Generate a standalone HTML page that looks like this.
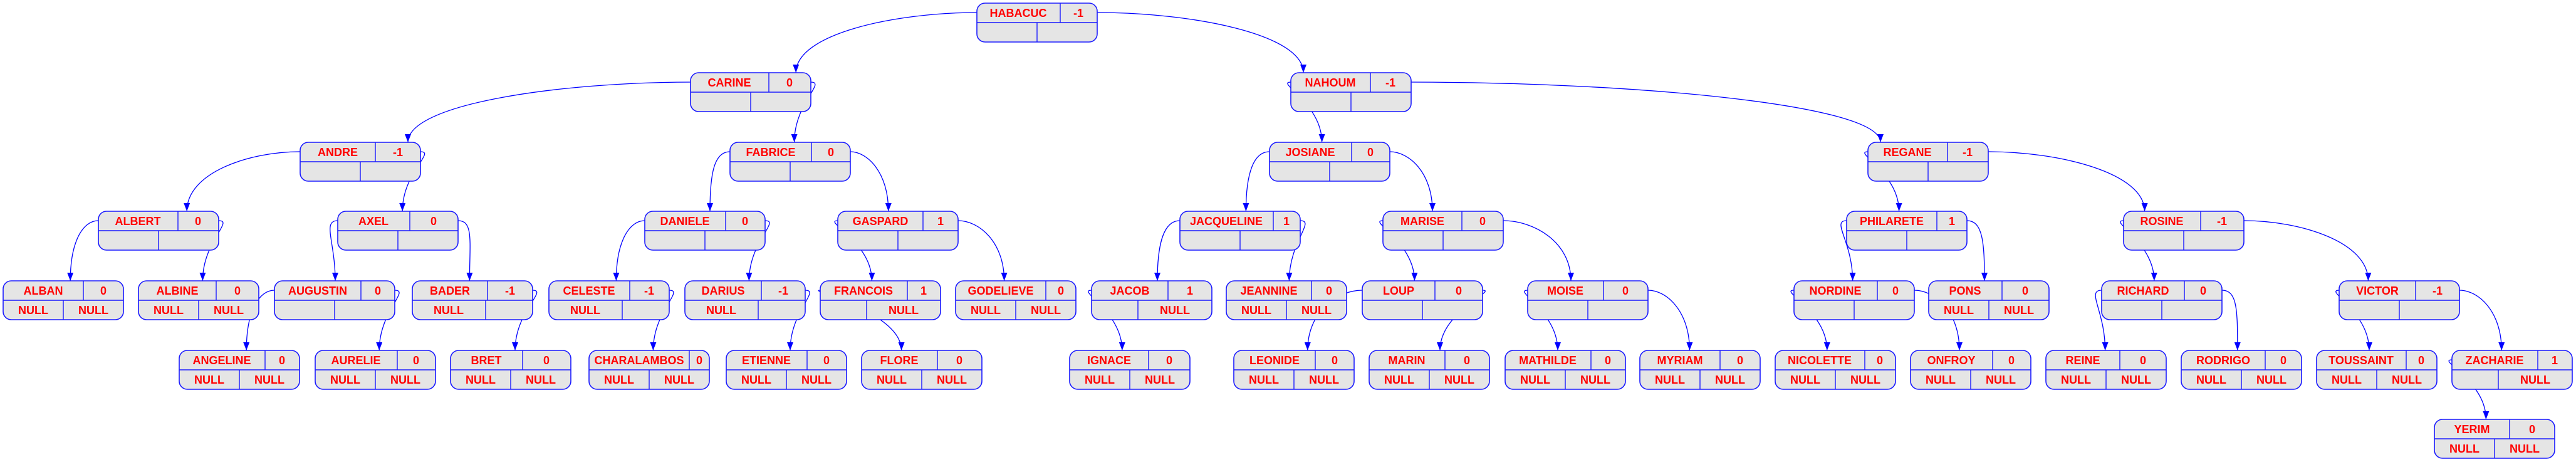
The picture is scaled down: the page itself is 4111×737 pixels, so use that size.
<!DOCTYPE html>
<html><head><meta charset="utf-8">
<style>
html,body{margin:0;padding:0;background:#fff;}
svg{display:block;}
.n rect{fill:#e5e5e5;stroke:#1a1aff;stroke-width:1.6;}
.n path{stroke:#1a1aff;stroke-width:1.4;fill:none;}
.n text{font-family:"Liberation Sans",sans-serif;font-weight:bold;font-size:18px;fill:#ff0000;text-anchor:middle;}
.e{stroke:#0000ff;stroke-width:1.3;fill:none;}
</style></head><body>
<svg id="s" width="4111" height="737" viewBox="0 0 4111 737" xmlns="http://www.w3.org/2000/svg">
<defs><marker id="a" markerUnits="userSpaceOnUse" markerWidth="13" markerHeight="10" refX="13" refY="5" orient="auto"><path d="M0,0L13,5L0,10z" fill="#0000ff"/></marker></defs>
<g id="edges"></g>
<!-- L0 -->
<g class="n" transform="translate(1559,5)"><rect width="192" height="62" rx="13"/><path d="M0 31H192M133 0V31M96 31V62"/><text x="66" y="22">HABACUC</text><text x="162" y="22">-1</text></g>
<!-- L1 -->
<g class="n" transform="translate(1102,116)"><rect width="192" height="62" rx="13"/><path d="M0 31H192M125 0V31M96 31V62"/><text x="62" y="22">CARINE</text><text x="158" y="22">0</text></g>
<g class="n" transform="translate(2060,116)"><rect width="192" height="62" rx="13"/><path d="M0 31H192M127 0V31M96 31V62"/><text x="63" y="22">NAHOUM</text><text x="159" y="22">-1</text></g>
<!-- L2 -->
<g class="n" transform="translate(479,227)"><rect width="192" height="62" rx="13"/><path d="M0 31H192M120 0V31M96 31V62"/><text x="60" y="22">ANDRE</text><text x="156" y="22">-1</text></g>
<g class="n" transform="translate(1165,227)"><rect width="192" height="62" rx="13"/><path d="M0 31H192M130 0V31M96 31V62"/><text x="65" y="22">FABRICE</text><text x="161" y="22">0</text></g>
<g class="n" transform="translate(2026,227)"><rect width="192" height="62" rx="13"/><path d="M0 31H192M131 0V31M96 31V62"/><text x="65" y="22">JOSIANE</text><text x="161" y="22">0</text></g>
<g class="n" transform="translate(2981,227)"><rect width="192" height="62" rx="13"/><path d="M0 31H192M127 0V31M96 31V62"/><text x="63" y="22">REGANE</text><text x="159" y="22">-1</text></g>
<!-- L3 -->
<g class="n" transform="translate(157,337)"><rect width="192" height="62" rx="13"/><path d="M0 31H192M127 0V31M96 31V62"/><text x="63" y="22">ALBERT</text><text x="159" y="22">0</text></g>
<g class="n" transform="translate(539,337)"><rect width="192" height="62" rx="13"/><path d="M0 31H192M115 0V31M96 31V62"/><text x="57" y="22">AXEL</text><text x="153" y="22">0</text></g>
<g class="n" transform="translate(1029,337)"><rect width="192" height="62" rx="13"/><path d="M0 31H192M129 0V31M96 31V62"/><text x="64" y="22">DANIELE</text><text x="160" y="22">0</text></g>
<g class="n" transform="translate(1337,337)"><rect width="192" height="62" rx="13"/><path d="M0 31H192M136 0V31M96 31V62"/><text x="68" y="22">GASPARD</text><text x="164" y="22">1</text></g>
<g class="n" transform="translate(1883,337)"><rect width="192" height="62" rx="13"/><path d="M0 31H192M149 0V31M96 31V62"/><text x="74" y="22">JACQUELINE</text><text x="170" y="22">1</text></g>
<g class="n" transform="translate(2207,337)"><rect width="192" height="62" rx="13"/><path d="M0 31H192M126 0V31M96 31V62"/><text x="63" y="22">MARISE</text><text x="159" y="22">0</text></g>
<g class="n" transform="translate(2947,337)"><rect width="192" height="62" rx="13"/><path d="M0 31H192M144 0V31M96 31V62"/><text x="72" y="22">PHILARETE</text><text x="168" y="22">1</text></g>
<g class="n" transform="translate(3389,337)"><rect width="192" height="62" rx="13"/><path d="M0 31H192M123 0V31M96 31V62"/><text x="61" y="22">ROSINE</text><text x="157" y="22">-1</text></g>
<!-- L4 -->
<g class="n" transform="translate(5,448)"><rect width="192" height="62" rx="13"/><path d="M0 31H192M128 0V31M96 31V62"/><text x="64" y="22">ALBAN</text><text x="160" y="22">0</text><text x="48" y="53">NULL</text><text x="144" y="53">NULL</text></g>
<g class="n" transform="translate(221,448)"><rect width="192" height="62" rx="13"/><path d="M0 31H192M124 0V31M96 31V62"/><text x="62" y="22">ALBINE</text><text x="158" y="22">0</text><text x="48" y="53">NULL</text><text x="144" y="53">NULL</text></g>
<g class="n" transform="translate(438,448)"><rect width="192" height="62" rx="13"/><path d="M0 31H192M138 0V31M96 31V62"/><text x="69" y="22">AUGUSTIN</text><text x="165" y="22">0</text></g>
<g class="n" transform="translate(658,448)"><rect width="192" height="62" rx="13"/><path d="M0 31H192M120 0V31M117 31V62"/><text x="60" y="22">BADER</text><text x="156" y="22">-1</text><text x="58" y="53">NULL</text></g>
<g class="n" transform="translate(876,448)"><rect width="192" height="62" rx="13"/><path d="M0 31H192M129 0V31M117 31V62"/><text x="64" y="22">CELESTE</text><text x="160" y="22">-1</text><text x="58" y="53">NULL</text></g>
<g class="n" transform="translate(1093,448)"><rect width="192" height="62" rx="13"/><path d="M0 31H192M122 0V31M117 31V62"/><text x="61" y="22">DARIUS</text><text x="157" y="22">-1</text><text x="58" y="53">NULL</text></g>
<g class="n" transform="translate(1309,448)"><rect width="192" height="62" rx="13"/><path d="M0 31H192M139 0V31M74 31V62"/><text x="69" y="22">FRANCOIS</text><text x="165" y="22">1</text><text x="133" y="53">NULL</text></g>
<g class="n" transform="translate(1525,448)"><rect width="192" height="62" rx="13"/><path d="M0 31H192M144 0V31M96 31V62"/><text x="72" y="22">GODELIEVE</text><text x="168" y="22">0</text><text x="48" y="53">NULL</text><text x="144" y="53">NULL</text></g>
<g class="n" transform="translate(1742,448)"><rect width="192" height="62" rx="13"/><path d="M0 31H192M122 0V31M74 31V62"/><text x="61" y="22">JACOB</text><text x="157" y="22">1</text><text x="133" y="53">NULL</text></g>
<g class="n" transform="translate(1957,448)"><rect width="192" height="62" rx="13"/><path d="M0 31H192M136 0V31M96 31V62"/><text x="68" y="22">JEANNINE</text><text x="164" y="22">0</text><text x="48" y="53">NULL</text><text x="144" y="53">NULL</text></g>
<g class="n" transform="translate(2174,448)"><rect width="192" height="62" rx="13"/><path d="M0 31H192M116 0V31M96 31V62"/><text x="58" y="22">LOUP</text><text x="154" y="22">0</text></g>
<g class="n" transform="translate(2438,448)"><rect width="192" height="62" rx="13"/><path d="M0 31H192M121 0V31M96 31V62"/><text x="60" y="22">MOISE</text><text x="156" y="22">0</text></g>
<g class="n" transform="translate(2863,448)"><rect width="192" height="62" rx="13"/><path d="M0 31H192M133 0V31M96 31V62"/><text x="66" y="22">NORDINE</text><text x="162" y="22">0</text></g>
<g class="n" transform="translate(3078,448)"><rect width="192" height="62" rx="13"/><path d="M0 31H192M117 0V31M96 31V62"/><text x="58" y="22">PONS</text><text x="154" y="22">0</text><text x="48" y="53">NULL</text><text x="144" y="53">NULL</text></g>
<g class="n" transform="translate(3354,448)"><rect width="192" height="62" rx="13"/><path d="M0 31H192M132 0V31M96 31V62"/><text x="66" y="22">RICHARD</text><text x="162" y="22">0</text></g>
<g class="n" transform="translate(3733,448)"><rect width="192" height="62" rx="13"/><path d="M0 31H192M122 0V31M96 31V62"/><text x="61" y="22">VICTOR</text><text x="157" y="22">-1</text></g>
<!-- L5 -->
<g class="n" transform="translate(286,559)"><rect width="192" height="62" rx="13"/><path d="M0 31H192M137 0V31M96 31V62"/><text x="68" y="22">ANGELINE</text><text x="164" y="22">0</text><text x="48" y="53">NULL</text><text x="144" y="53">NULL</text></g>
<g class="n" transform="translate(503,559)"><rect width="192" height="62" rx="13"/><path d="M0 31H192M131 0V31M96 31V62"/><text x="65" y="22">AURELIE</text><text x="161" y="22">0</text><text x="48" y="53">NULL</text><text x="144" y="53">NULL</text></g>
<g class="n" transform="translate(719,559)"><rect width="192" height="62" rx="13"/><path d="M0 31H192M115 0V31M96 31V62"/><text x="57" y="22">BRET</text><text x="153" y="22">0</text><text x="48" y="53">NULL</text><text x="144" y="53">NULL</text></g>
<g class="n" transform="translate(940,559)"><rect width="192" height="62" rx="13"/><path d="M0 31H192M160 0V31M96 31V62"/><text x="80" y="22">CHARALAMBOS</text><text x="176" y="22">0</text><text x="48" y="53">NULL</text><text x="144" y="53">NULL</text></g>
<g class="n" transform="translate(1159,559)"><rect width="192" height="62" rx="13"/><path d="M0 31H192M129 0V31M96 31V62"/><text x="64" y="22">ETIENNE</text><text x="160" y="22">0</text><text x="48" y="53">NULL</text><text x="144" y="53">NULL</text></g>
<g class="n" transform="translate(1375,559)"><rect width="192" height="62" rx="13"/><path d="M0 31H192M121 0V31M96 31V62"/><text x="60" y="22">FLORE</text><text x="156" y="22">0</text><text x="48" y="53">NULL</text><text x="144" y="53">NULL</text></g>
<g class="n" transform="translate(1707,559)"><rect width="192" height="62" rx="13"/><path d="M0 31H192M126 0V31M96 31V62"/><text x="63" y="22">IGNACE</text><text x="159" y="22">0</text><text x="48" y="53">NULL</text><text x="144" y="53">NULL</text></g>
<g class="n" transform="translate(1969,559)"><rect width="192" height="62" rx="13"/><path d="M0 31H192M130 0V31M96 31V62"/><text x="65" y="22">LEONIDE</text><text x="161" y="22">0</text><text x="48" y="53">NULL</text><text x="144" y="53">NULL</text></g>
<g class="n" transform="translate(2185,559)"><rect width="192" height="62" rx="13"/><path d="M0 31H192M121 0V31M96 31V62"/><text x="60" y="22">MARIN</text><text x="156" y="22">0</text><text x="48" y="53">NULL</text><text x="144" y="53">NULL</text></g>
<g class="n" transform="translate(2402,559)"><rect width="192" height="62" rx="13"/><path d="M0 31H192M137 0V31M96 31V62"/><text x="68" y="22">MATHILDE</text><text x="164" y="22">0</text><text x="48" y="53">NULL</text><text x="144" y="53">NULL</text></g>
<g class="n" transform="translate(2617,559)"><rect width="192" height="62" rx="13"/><path d="M0 31H192M128 0V31M96 31V62"/><text x="64" y="22">MYRIAM</text><text x="160" y="22">0</text><text x="48" y="53">NULL</text><text x="144" y="53">NULL</text></g>
<g class="n" transform="translate(2833,559)"><rect width="192" height="62" rx="13"/><path d="M0 31H192M143 0V31M96 31V62"/><text x="71" y="22">NICOLETTE</text><text x="167" y="22">0</text><text x="48" y="53">NULL</text><text x="144" y="53">NULL</text></g>
<g class="n" transform="translate(3049,559)"><rect width="192" height="62" rx="13"/><path d="M0 31H192M131 0V31M96 31V62"/><text x="65" y="22">ONFROY</text><text x="161" y="22">0</text><text x="48" y="53">NULL</text><text x="144" y="53">NULL</text></g>
<g class="n" transform="translate(3265,559)"><rect width="192" height="62" rx="13"/><path d="M0 31H192M118 0V31M96 31V62"/><text x="59" y="22">REINE</text><text x="155" y="22">0</text><text x="48" y="53">NULL</text><text x="144" y="53">NULL</text></g>
<g class="n" transform="translate(3481,559)"><rect width="192" height="62" rx="13"/><path d="M0 31H192M134 0V31M96 31V62"/><text x="67" y="22">RODRIGO</text><text x="163" y="22">0</text><text x="48" y="53">NULL</text><text x="144" y="53">NULL</text></g>
<g class="n" transform="translate(3697,559)"><rect width="192" height="62" rx="13"/><path d="M0 31H192M143 0V31M96 31V62"/><text x="71" y="22">TOUSSAINT</text><text x="167" y="22">0</text><text x="48" y="53">NULL</text><text x="144" y="53">NULL</text></g>
<g class="n" transform="translate(3913,559)"><rect width="192" height="62" rx="13"/><path d="M0 31H192M137 0V31M74 31V62"/><text x="68" y="22">ZACHARIE</text><text x="164" y="22">1</text><text x="133" y="53">NULL</text></g>
<!-- L6 -->
<g class="n" transform="translate(3885,669)"><rect width="192" height="62" rx="13"/><path d="M0 31H192M120 0V31M96 31V62"/><text x="60" y="22">YERIM</text><text x="156" y="22">0</text><text x="48" y="53">NULL</text><text x="144" y="53">NULL</text></g>
</svg>
<script>
var Y=[5,116,227,337,448,559,669];
var P={HABACUC:[1559,0],CARINE:[1102,1],NAHOUM:[2060,1],ANDRE:[479,2],FABRICE:[1165,2],JOSIANE:[2026,2],REGANE:[2981,2],
ALBERT:[157,3],AXEL:[539,3],DANIELE:[1029,3],GASPARD:[1337,3],JACQUELINE:[1883,3],MARISE:[2207,3],PHILARETE:[2947,3],ROSINE:[3389,3],
ALBAN:[5,4],ALBINE:[221,4],AUGUSTIN:[438,4],BADER:[658,4],CELESTE:[876,4],DARIUS:[1093,4],FRANCOIS:[1309,4],GODELIEVE:[1525,4],JACOB:[1742,4],JEANNINE:[1957,4],LOUP:[2174,4],MOISE:[2438,4],NORDINE:[2863,4],PONS:[3078,4],RICHARD:[3354,4],VICTOR:[3733,4],
ANGELINE:[286,5],AURELIE:[503,5],BRET:[719,5],CHARALAMBOS:[940,5],ETIENNE:[1159,5],FLORE:[1375,5],IGNACE:[1707,5],LEONIDE:[1969,5],MARIN:[2185,5],MATHILDE:[2402,5],MYRIAM:[2617,5],NICOLETTE:[2833,5],ONFROY:[3049,5],REINE:[3265,5],RODRIGO:[3481,5],TOUSSAINT:[3697,5],ZACHARIE:[3913,5],YERIM:[3885,6]};
var E=[["HABACUC","CARINE",-1],["HABACUC","NAHOUM",1],["CARINE","ANDRE",-1],["CARINE","FABRICE",1],["ANDRE","ALBERT",-1],["ANDRE","AXEL",1],
["ALBERT","ALBAN",-1],["ALBERT","ALBINE",1],["AXEL","AUGUSTIN",-1],["AXEL","BADER",1],["AUGUSTIN","ANGELINE",-1],["AUGUSTIN","AURELIE",1],["BADER","BRET",1],
["FABRICE","DANIELE",-1],["FABRICE","GASPARD",1],["DANIELE","CELESTE",-1],["DANIELE","DARIUS",1],["CELESTE","CHARALAMBOS",1],["DARIUS","ETIENNE",1],
["GASPARD","FRANCOIS",-1],["GASPARD","GODELIEVE",1],["FRANCOIS","FLORE",-1],["NAHOUM","JOSIANE",-1],["NAHOUM","REGANE",1],["JOSIANE","JACQUELINE",-1],["JOSIANE","MARISE",1],
["JACQUELINE","JACOB",-1],["JACQUELINE","JEANNINE",1],["JACOB","IGNACE",-1],["MARISE","LOUP",-1],["MARISE","MOISE",1],["LOUP","LEONIDE",-1],["LOUP","MARIN",1],
["MOISE","MATHILDE",-1],["MOISE","MYRIAM",1],["REGANE","PHILARETE",-1],["REGANE","ROSINE",1],["PHILARETE","NORDINE",-1],["PHILARETE","PONS",1],
["NORDINE","NICOLETTE",-1],["NORDINE","ONFROY",1],["ROSINE","RICHARD",-1],["ROSINE","VICTOR",1],["RICHARD","REINE",-1],["RICHARD","RODRIGO",1],
["VICTOR","TOUSSAINT",-1],["VICTOR","ZACHARIE",1],["ZACHARIE","YERIM",-1]];
var g=document.getElementById("edges"),h="";
E.forEach(function(e){var p=P[e[0]],c=P[e[1]],d=e[2];
var px=p[0]+(d<0?0:192),py=Y[p[1]]+15;var cc=c[0]+96,cy=Y[c[1]];
var tx=cc+0.2*(px-cc);tx=Math.max(c[0]+20,Math.min(c[0]+172,tx));
var dx=Math.abs(tx-px),k=Math.max(25,0.45*dx);
var c1x=px+d*k;if(d*(tx-px)<0)c1x=px+d*25;
h+='<path class="e" marker-end="url(#a)" d="M'+px+','+py+' C'+c1x+','+py+' '+tx+','+(py+(cy-py)*0.35)+' '+tx+','+cy+'"/>';});
g.innerHTML=h;
</script>
</body></html>
